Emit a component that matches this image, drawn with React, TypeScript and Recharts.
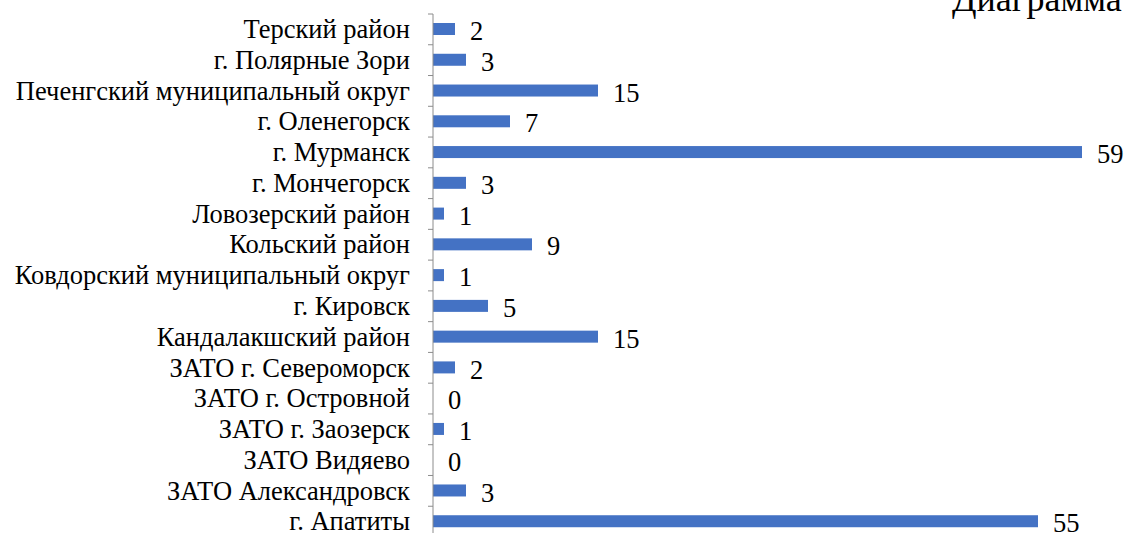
import React from "react";
import { BarChart, Bar, XAxis, YAxis } from "recharts";

const categories = [
  "Терский район",
  "г. Полярные Зори",
  "Печенгский муниципальный округ",
  "г. Оленегорск",
  "г. Мурманск",
  "г. Мончегорск",
  "Ловозерский район",
  "Кольский район",
  "Ковдорский муниципальный округ",
  "г. Кировск",
  "Кандалакшский район",
  "ЗАТО г. Североморск",
  "ЗАТО г. Островной",
  "ЗАТО г. Заозерск",
  "ЗАТО Видяево",
  "ЗАТО Александровск",
  "г. Апатиты",
];
const values = [2, 3, 15, 7, 59, 3, 1, 9, 1, 5, 15, 2, 0, 1, 0, 3, 55];
const titleText = "Диаграмма";

const data = categories.map((name, i) => ({ name, value: values[i] }));

const FONT = '"Liberation Serif", "Times New Roman", "DejaVu Serif", serif';
const FONT_SIZE = 26.5;
const W = 1126;
const H = 540;
const MARGIN = { top: 14, right: 33, bottom: 3, left: 0 };
const BAND = (H - MARGIN.top - MARGIN.bottom) / categories.length;
const TICK_SIZE = 5;
const TICK_MARGIN = 18;
const AXIS_COLOR = "#8c8c8c";
const BAR_COLOR = "#4472C4";

const CategoryTick = (props: any) => {
  const { x, y, payload, index } = props;
  const axisX = x + TICK_MARGIN + TICK_SIZE;
  const isLast = index === categories.length - 1;
  return (
    <g>
      <line x1={axisX - TICK_SIZE} x2={axisX} y1={y - BAND / 2} y2={y - BAND / 2} stroke={AXIS_COLOR} strokeWidth={1} />
      {isLast && (
        <line x1={axisX - TICK_SIZE} x2={axisX} y1={y + BAND / 2} y2={y + BAND / 2} stroke={AXIS_COLOR} strokeWidth={1} />
      )}
      <text x={x} y={y} dy="0.33em" textAnchor="end" style={{ fontFamily: FONT, fontSize: FONT_SIZE }} fill="#000">
        {payload.value}
      </text>
    </g>
  );
};

const BarWithLabel = (props: any) => {
  const { x, y, width, height, value } = props;
  const v = Array.isArray(value) ? value[1] - value[0] : value;
  return (
    <g>
      {width > 0 && <rect x={x} y={y} width={width} height={height} fill={BAR_COLOR} />}
      <text x={x + Math.max(width, 0) + 15} y={y + height / 2} dy="0.42em" textAnchor="start" style={{ fontFamily: FONT, fontSize: FONT_SIZE }} fill="#000">
        {v}
      </text>
    </g>
  );
};

export default function App() {
  return (
    <div style={{ position: "absolute", left: 0, top: 0, width: 1126, height: 533, overflow: "hidden", background: "#fff" }}>
      <BarChart width={W} height={H} data={data} layout="vertical" margin={MARGIN} barCategoryGap={0}>
        <XAxis type="number" domain={[0, 60]} hide />
        <YAxis
          type="category"
          dataKey="name"
          width={433}
          interval={0}
          tickLine={false}
          tickSize={TICK_SIZE}
          tickMargin={TICK_MARGIN}
          axisLine={{ stroke: AXIS_COLOR, strokeWidth: 1 }}
          tick={<CategoryTick />}
        />
        <Bar dataKey="value" fill={BAR_COLOR} barSize={12} isAnimationActive={false} shape={<BarWithLabel />} />
      </BarChart>
      <svg style={{ position: "absolute", left: 0, top: 0, pointerEvents: "none" }} width={1126} height={533}>
        <text x={952} y={11} style={{ fontFamily: FONT, fontSize: 36 }} fill="#000">
          {titleText}
        </text>
      </svg>
    </div>
  );
}
